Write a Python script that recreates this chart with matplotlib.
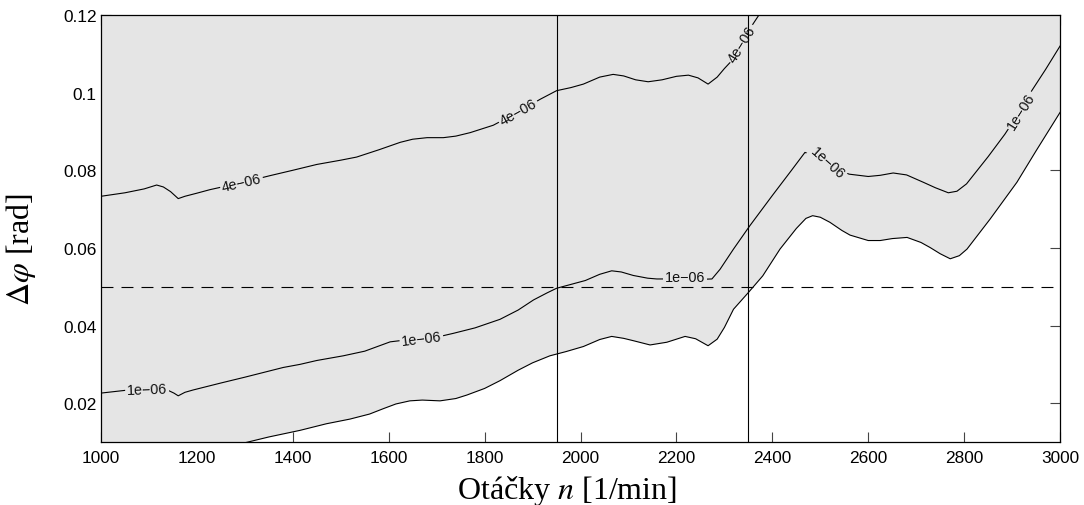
import matplotlib
matplotlib.use("Agg")
import matplotlib.pyplot as plt

# ---------------- data ----------------
# lowest boundary curve (edge of the shaded region), unlabeled
low_n = [1000, 1150, 1250, 1300, 1350, 1415, 1470, 1519, 1560, 1589, 1615, 1644,
         1670, 1707, 1740, 1763, 1800, 1832, 1870, 1900, 1936, 1970, 2006, 2040,
         2065, 2090, 2110, 2145, 2180, 2218, 2240, 2266, 2285, 2300, 2319, 2350,
         2380, 2416, 2450, 2470, 2484, 2500, 2520, 2545, 2562, 2600, 2625, 2650,
         2681, 2710, 2729, 2750, 2771, 2790, 2806, 2854, 2910, 2950, 3000]
low_phi = [0.0030, 0.0062, 0.0085, 0.0098, 0.0113, 0.0130, 0.0147, 0.0159, 0.0172,
           0.0186, 0.0198, 0.0206, 0.0208, 0.0206, 0.0212, 0.0221, 0.0238, 0.0258,
           0.0285, 0.0304, 0.0322, 0.0333, 0.0346, 0.0364, 0.0372, 0.0367, 0.0361,
           0.0350, 0.0357, 0.0372, 0.0366, 0.0348, 0.0365, 0.0395, 0.0442, 0.0485,
           0.0528, 0.0597, 0.0650, 0.0676, 0.0683, 0.0679, 0.0666, 0.0645, 0.0633,
           0.0619, 0.0619, 0.0624, 0.0627, 0.0614, 0.0601, 0.0585, 0.0572, 0.0580,
           0.0597, 0.0674, 0.0769, 0.0850, 0.0949]

# contour 1e-06
mid_n = [1000, 1050, 1100, 1140, 1152, 1161, 1175, 1192, 1250, 1300, 1380, 1415,
         1450, 1505, 1550, 1603, 1650, 1700, 1735, 1780, 1832, 1870, 1902, 1930,
         1950, 1980, 2010, 2040, 2065, 2085, 2110, 2140, 2159, 2200, 2250, 2274,
         2291, 2319, 2353, 2400, 2440, 2468, 2490, 2520, 2560, 2600, 2625, 2652,
         2680, 2715, 2740, 2767, 2785, 2805, 2850, 2885, 2910, 2941, 2970, 3000]
mid_phi = [0.0226, 0.0233, 0.0235, 0.0233, 0.0226, 0.0219, 0.0228, 0.0234, 0.0252,
           0.0267, 0.0292, 0.0300, 0.0310, 0.0322, 0.0334, 0.0358, 0.0365, 0.0370,
           0.0380, 0.0394, 0.0416, 0.0440, 0.0466, 0.0484, 0.0496, 0.0506, 0.0516,
           0.0532, 0.0541, 0.0538, 0.0529, 0.0522, 0.0520, 0.0520, 0.0519, 0.0520,
           0.0545, 0.0597, 0.0657, 0.0735, 0.0800, 0.0846, 0.0835, 0.0812, 0.0790,
           0.0784, 0.0787, 0.0793, 0.0788, 0.0769, 0.0755, 0.0742, 0.0746, 0.0765,
           0.0835, 0.0893, 0.0940, 0.1005, 0.1060, 0.1120]

# contour 4e-06
top_n = [1000, 1050, 1090, 1116, 1130, 1145, 1161, 1175, 1200, 1227, 1300, 1352,
         1400, 1450, 1500, 1533, 1580, 1624, 1650, 1680, 1714, 1740, 1770, 1818,
         1870, 1916, 1950, 1980, 2006, 2040, 2068, 2090, 2115, 2141, 2170, 2200,
         2225, 2245, 2266, 2285, 2300, 2319, 2340, 2371, 2385]
top_phi = [0.0733, 0.0742, 0.0752, 0.0762, 0.0757, 0.0745, 0.0727, 0.0733, 0.0741,
           0.0750, 0.0770, 0.0786, 0.0800, 0.0815, 0.0826, 0.0834, 0.0853, 0.0872,
           0.0880, 0.0884, 0.0884, 0.0888, 0.0897, 0.0916, 0.0950, 0.0983, 0.1005,
           0.1013, 0.1022, 0.1040, 0.1047, 0.1043, 0.1033, 0.1028, 0.1033, 0.1042,
           0.1045, 0.1038, 0.1022, 0.1040, 0.1062, 0.1087, 0.1140, 0.1198, 0.1225]

# contour labels: (text, n, phi, rotation)
labels = [("4e\u221206", 1293, 0.0768, 13),
          ("4e\u221206", 1870, 0.0950, 29),
          ("4e\u221206", 2337, 0.1125, 58),
          ("1e\u221206", 1096, 0.0235, 2),
          ("1e\u221206", 1668, 0.0367, 7),
          ("1e\u221206", 2218, 0.0526, 0),
          ("1e\u221206", 2516, 0.0821, -42),
          ("1e\u221206", 2918, 0.0953, 58)]

v_lines = [1950, 2350]
h_line = 0.05

x_ticks = list(range(1000, 3001, 200))
y_ticks = [0.02, 0.04, 0.06, 0.08, 0.1, 0.12]
y_tick_labels = ["0.02", "0.04", "0.06", "0.08", "0.1", "0.12"]

# ---------------- figure ----------------
plt.rcParams['font.family'] = ['Liberation Sans', 'DejaVu Sans']
plt.rcParams['mathtext.fontset'] = 'stix'
plt.rcParams['lines.scale_dashes'] = False

GRAY = '#e5e5e5'

fig = plt.figure(figsize=(10.84, 5.06), dpi=100)
ax = fig.add_axes([0.0932, 0.1245, 0.8847, 0.8439])
ax.set_axisbelow(True)

ax.fill_between(low_n, low_phi, 0.2, facecolor=GRAY, edgecolor='none', zorder=1)

lw = 0.8
for xs, ys in [(low_n, low_phi), (mid_n, mid_phi), (top_n, top_phi)]:
    ax.plot(xs, ys, color='black', lw=lw, zorder=2, solid_joinstyle='round')

for txt, xn, yp, rot in labels:
    ax.text(xn, yp, txt, rotation=rot, rotation_mode='anchor', ha='center',
            va='center', fontsize=10.4, color='#111111', zorder=3,
            bbox=dict(boxstyle='square,pad=0.12', facecolor=GRAY, edgecolor='none'))

for xv in v_lines:
    ax.axvline(xv, color='black', lw=lw, zorder=4)
ax.axhline(h_line, color='black', lw=lw, ls=(0, (8.6, 5.8)), zorder=4)

ax.set_xlim(1000, 3000)
ax.set_ylim(0.01, 0.12)
ax.set_xticks(x_ticks)
ax.set_yticks(y_ticks)
ax.set_yticklabels(y_tick_labels)

ax.tick_params(direction='in', length=7.2, width=0.8, color='#444444',
               labelsize=12.4, top=True, right=True)
ax.tick_params(axis='x', pad=6)
ax.tick_params(axis='y', pad=3)
for s in ax.spines.values():
    s.set_linewidth(0.9)
    s.set_zorder(5)

ax.set_xlabel('Otáčky $n$ [1/min]', fontsize=23, family=['Liberation Serif', 'DejaVu Serif'])
ax.set_ylabel(r'$\Delta\varphi$ [rad]', fontsize=23, family=['Liberation Serif', 'DejaVu Serif'])
ax.xaxis.set_label_coords(0.486, -0.072)
ax.yaxis.set_label_coords(-0.066, 0.454)

fig.savefig('out.png', dpi=100)
